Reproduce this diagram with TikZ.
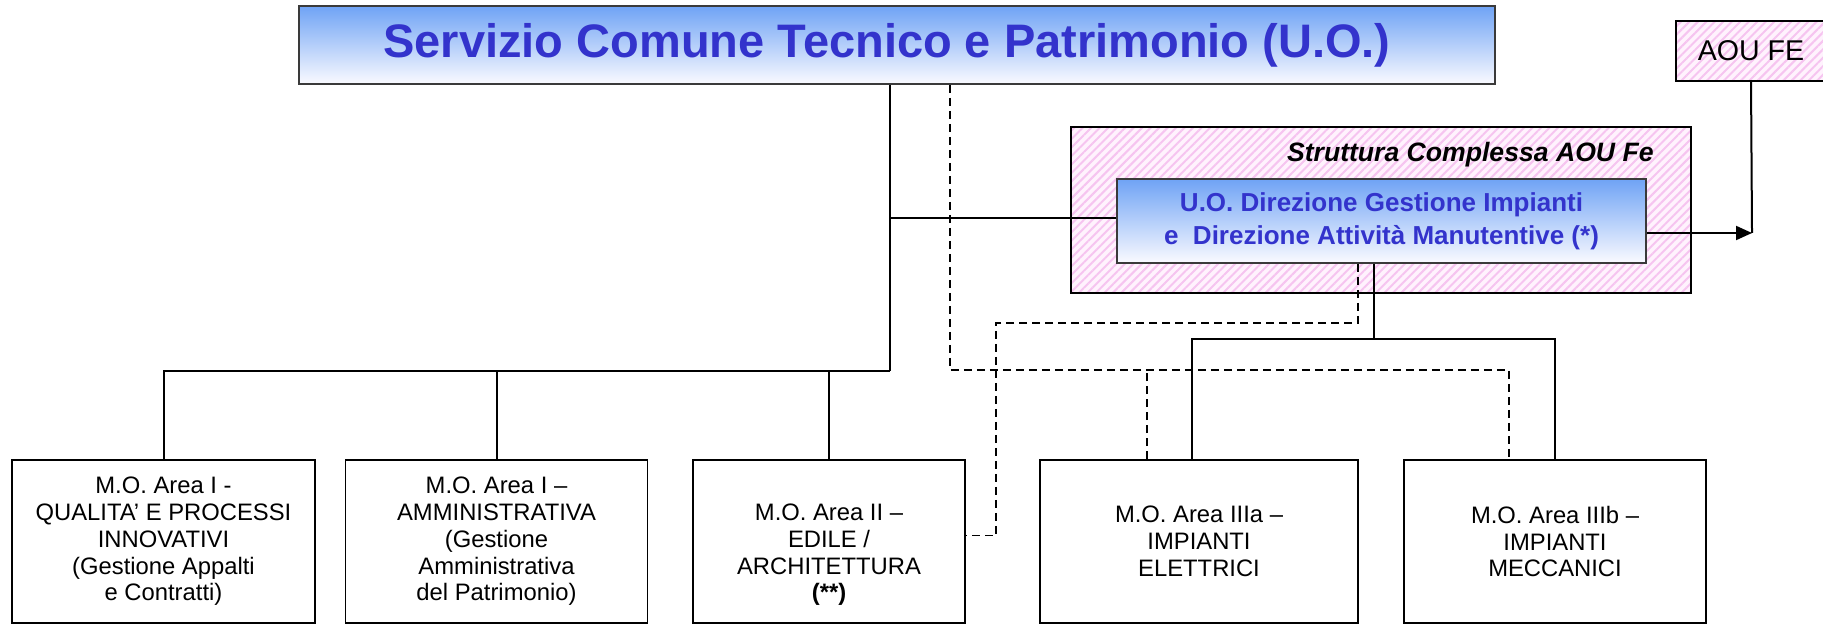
\documentclass[tikz,border=0pt]{standalone}
\usepackage{fontspec}
\setmainfont{Liberation Sans}
\usepackage{tikz}
\usetikzlibrary{arrows.meta,positioning,patterns.meta}
\definecolor{ink}{HTML}{000000}
\definecolor{frame}{HTML}{3A3A3A}
\definecolor{titleblue}{HTML}{3333CC}
\definecolor{gradtop}{HTML}{6FA3F5}
\definecolor{gradbot}{HTML}{FAFAFF}
\definecolor{hatchbg}{HTML}{FFF2FD}
\definecolor{hatchln}{HTML}{F6C4F0}
\tikzset{
  headbox/.style={draw=frame,line width=0.8pt,
                  top color=gradtop,bottom color=gradbot,
                  text=titleblue,align=center,inner sep=0pt},
  pinkbox/.style={draw=ink,line width=0.9pt,preaction={fill=hatchbg},
                  pattern={Lines[angle=45,distance=3pt,line width=1pt]},
                  pattern color=hatchln,align=center,inner sep=0pt},
  areabox/.style={draw=ink,fill=white,line width=0.8pt,
                  minimum width=151pt,minimum height=81.5pt,
                  align=center,inner sep=0pt,
                  font=\fontsize{11.9}{13.4}\selectfont},
  treeline/.style={line width=1pt,draw=ink},
  dashline/.style={line width=0.8pt,dash pattern=on 4pt off 2.5pt},
  flowarr/.style={-{Triangle[length=8pt,width=7pt]},line width=1pt}
}

\begin{document}
\begin{tikzpicture}[x=0.5pt,y=-0.5pt]
  \useasboundingbox (0,0) rectangle (1823,625);

  % top level
  \node[headbox,minimum width=598pt,minimum height=39pt,
        font=\fontsize{23.5}{28}\selectfont\bfseries] (title) at (897,45)
    {\hspace*{-10pt}Servizio Comune Tecnico e Patrimonio (U.O.)};
  \node[pinkbox,minimum width=75pt,minimum height=30pt,
        font=\fontsize{14.3}{17}\selectfont] (aou) at (1751,51) {AOU FE};

  % struttura complessa
  \node[pinkbox,minimum width=310pt,minimum height=83pt] (cplx) at (1381,210) {};
  \node[anchor=base east,inner sep=0pt,
        font=\fontsize{13.3}{16}\selectfont\bfseries\itshape] (cplxlbl) at (1654,162)
    {Struttura Complessa AOU Fe};
  \node[headbox,minimum width=264.5pt,minimum height=42pt,
        font=\fontsize{13}{16.5}\selectfont\bfseries] (uo) at (1381.5,221)
    {U.O. Direzione Gestione Impianti\\e~ Direzione Attività Manutentive (*)};

  % bottom row
  \node[areabox,minimum width=151.5pt] (qual) at (163.5,541.5)
    {M.O. Area I -\\QUALITA’ E PROCESSI\\INNOVATIVI\\(Gestione Appalti\\e Contratti)};
  \node[areabox] (amm) at (496.5,541.5)
    {M.O. Area I –\\AMMINISTRATIVA\\(Gestione\\Amministrativa\\del Patrimonio)};
  \node[areabox,minimum width=136pt] (edil) at (829,541.5)
    {\mbox{}\\[8.2pt]M.O. Area II –\\EDILE /\\ARCHITETTURA\\\textbf{(**)}};
  \node[areabox,minimum width=159pt] (elet) at (1199,541.5)
    {M.O. Area IIIa –\\IMPIANTI\\ELETTRICI};
  \node[areabox] (mecc) at (1555,541.5)
    {M.O. Area IIIb –\\IMPIANTI\\MECCANICI};

  \coordinate (hubA) at (890,371);
  \coordinate (hubB) at (1374,339);
  \coordinate (dashA) at (950,370);
  \coordinate (dashB) at (996,323);
  \coordinate (dashC) at (1358,323);
  \coordinate (uoin) at ([yshift=1.5pt]uo.west);
  \coordinate (edin) at ([yshift=3pt]edil.east);
  \coordinate (aoujoin) at (1752,233);

  % solid hierarchy
  \draw[treeline] (title.south -| hubA) -- (hubA);
  \draw[treeline] (qual.north) |- (hubA);
  \foreach \nd in {amm,edil} {
    \draw[treeline] (\nd.north) -- (\nd.north |- hubA);
  }
  \draw[treeline] (hubA |- uoin) -- (uoin);
  \draw[treeline] (uo.south -| hubB) -- (hubB);
  \draw[treeline] ([xshift=-3.5pt]elet.north) |- (hubB) -| (mecc.north);
  \draw[treeline] (aou.south) -- (aoujoin);
  \draw[flowarr] (uo.east |- aoujoin) -- (aoujoin);

  % dashed links
  \draw[dashline] (title.south -| dashA) -- (dashA) -| ([xshift=-23pt]mecc.north);
  \draw[dashline] ([xshift=-26pt]elet.north) -- ([xshift=-26pt]elet.north |- dashA);
  \draw[dashline] (uo.south -| dashC) -- (dashC) -- (dashB) |- (edin);
\end{tikzpicture}
\end{document}
